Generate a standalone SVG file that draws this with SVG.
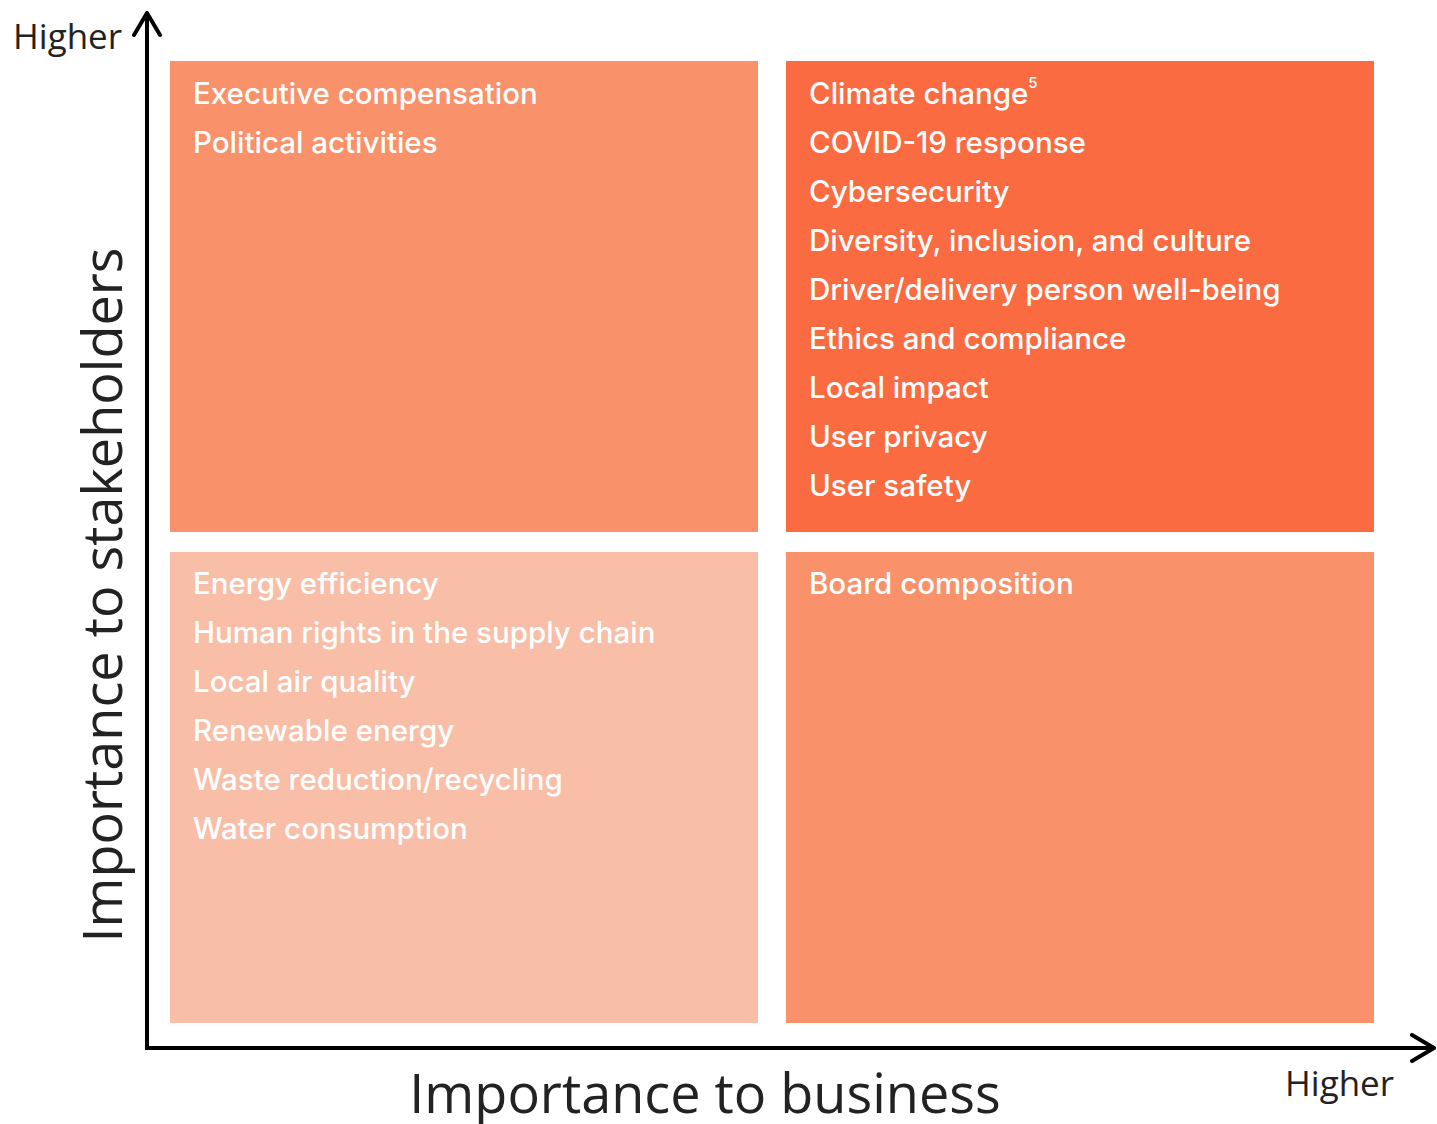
<svg xmlns="http://www.w3.org/2000/svg" width="1437" height="1124" viewBox="0 0 1437 1124">
<defs>
<style>
.item{font-family:Inter,Roboto,"Liberation Sans",sans-serif;font-size:29.5px;font-weight:500;fill:#ffffff;}
.axis{font-family:"Open Sans","Noto Sans","Liberation Sans",sans-serif;fill:#222222;}
.ax{stroke:#000;stroke-width:4;fill:none;}
</style>
<marker id="arr" viewBox="0 0 30 30" refX="27" refY="15" markerWidth="30" markerHeight="30" markerUnits="userSpaceOnUse" orient="auto">
<path d="M5,2 L27,15 L5,28" fill="none" stroke="#000" stroke-width="4" stroke-linecap="round" stroke-linejoin="round"/>
</marker>
</defs>
<rect width="1437" height="1124" fill="#ffffff"/>
<g id="connectors">
<path class="ax" d="M147,1048 L147,13" marker-end="url(#arr)"/>
<path class="ax" d="M145,1048 L1434,1048" marker-end="url(#arr)"/>
</g>
<g id="q-top-left">
<rect x="170" y="61" width="588" height="471" fill="#F9916A"/>
<text class="item" x="193" y="104">Executive compensation</text>
<text class="item" x="193" y="153">Political activities</text>
</g>
<g id="q-top-right">
<rect x="786" y="61" width="588" height="471" fill="#FB6B42"/>
<text class="item" x="809" y="104">Climate change<tspan font-size="15" dy="-16">5</tspan></text>
<text class="item" x="809" y="153">COVID-19 response</text>
<text class="item" x="809" y="202">Cybersecurity</text>
<text class="item" x="809" y="251">Diversity, inclusion, and culture</text>
<text class="item" x="809" y="300">Driver/delivery person well-being</text>
<text class="item" x="809" y="349">Ethics and compliance</text>
<text class="item" x="809" y="398">Local impact</text>
<text class="item" x="809" y="447">User privacy</text>
<text class="item" x="809" y="496">User safety</text>
</g>
<g id="q-bottom-left">
<rect x="170" y="552" width="588" height="471" fill="#F9BEA7"/>
<text class="item" x="193" y="594">Energy efficiency</text>
<text class="item" x="193" y="643">Human rights in the supply chain</text>
<text class="item" x="193" y="692">Local air quality</text>
<text class="item" x="193" y="741">Renewable energy</text>
<text class="item" x="193" y="790">Waste reduction/recycling</text>
<text class="item" x="193" y="839">Water consumption</text>
</g>
<g id="q-bottom-right">
<rect x="786" y="552" width="588" height="471" fill="#F9916A"/>
<text class="item" x="809" y="594">Board composition</text>
</g>
<g id="labels">
<text class="axis" x="13" y="49" font-size="35">Higher</text>
<text class="axis" x="1285" y="1096" font-size="35">Higher</text>
<text class="axis" x="705" y="1113" font-size="54" text-anchor="middle">Importance to business</text>
<text class="axis" transform="translate(122,595) rotate(-90)" font-size="54" text-anchor="middle">Importance to stakeholders</text>
</g>
</svg>
